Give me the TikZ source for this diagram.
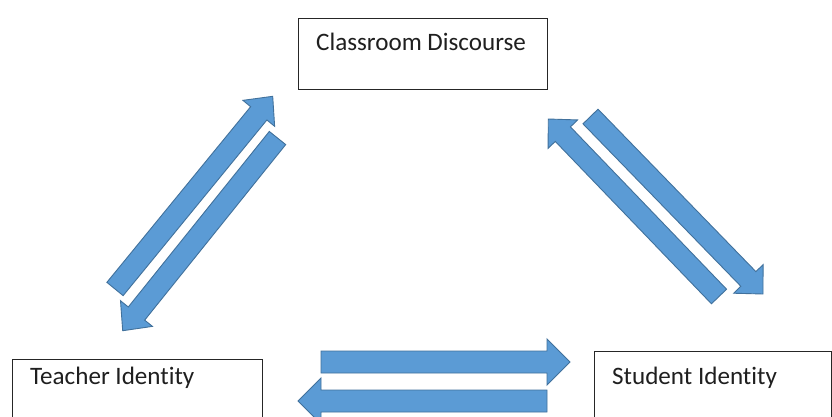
\documentclass[tikz,border=0pt]{standalone}
\usepackage{fontspec}
\setmainfont{Carlito}[Ligatures=NoCommon]
\usetikzlibrary{calc}
\definecolor{arrfill}{HTML}{5B9BD5}
\definecolor{arrline}{HTML}{41719C}
\tikzset{
  barr/.style={fill=arrfill, draw=arrline, line width=0.9pt, line join=miter},
  box/.style={draw=black!85, line width=1pt, fill=white, inner sep=0pt, anchor=north west},
  lbl/.style={anchor=base west, inner sep=0pt, font=\fontsize{25.1}{30}\selectfont, text=black!88}
}
% block arrow: tail, tip, half shaft width, half head width, head length
\newcommand\barrow[5]{%
  \coordinate (bh) at ($(#2)!#5pt!(#1)$);
  \draw[barr] ($(#1)!#3pt!90:(#2)$) -- ($(bh)!#3pt!90:(#2)$) -- ($(bh)!#4pt!90:(#2)$) -- (#2)
    -- ($(bh)!#4pt!-90:(#2)$) -- ($(bh)!#3pt!-90:(#2)$) -- ($(#1)!#3pt!-90:(#2)$) -- cycle;}
\begin{document}
\begin{tikzpicture}[x=1pt,y=-1pt]
\clip (0,0) rectangle (832,416);
\fill[white] (0,0) rectangle (832,416);
% boxes
\node[box, minimum width=249pt, minimum height=71pt] (cd) at (298,18) {};
\node[lbl] (cdt) at (316,50) {Classroom Discourse};
\node[box, minimum width=250pt, minimum height=80pt] (ti) at (12,359) {};
\node[lbl] (tit) at (30,384) {Teacher Identity};
\node[box, minimum width=237pt, minimum height=80pt] (si) at (594,351) {};
\node[lbl] (sit) at (612,384) {Student Identity};
% arrow end points
\coordinate (h1s) at (321,362);   \coordinate (h1e) at (570,362);
\coordinate (h2s) at (547,401);   \coordinate (h2e) at (298,401);
\coordinate (l1s) at (115,289);   \coordinate (l1e) at (272.7,96.3);
\coordinate (l2s) at (277.5,138); \coordinate (l2e) at (122.7,330.7);
\coordinate (r1s) at (719,296.5); \coordinate (r1e) at (548.3,119);
\coordinate (r2s) at (590.5,116.5); \coordinate (r2e) at (763,294);
% arrows
\barrow{h1s}{h1e}{11}{23}{23}
\barrow{h2s}{h2e}{11}{23}{23}
\barrow{l1s}{l1e}{10.5}{20.5}{22}
\barrow{l2s}{l2e}{10.5}{20.5}{22}
\barrow{r1s}{r1e}{10.5}{20.5}{21}
\barrow{r2s}{r2e}{10.5}{20.5}{21}
\end{tikzpicture}
\end{document}
